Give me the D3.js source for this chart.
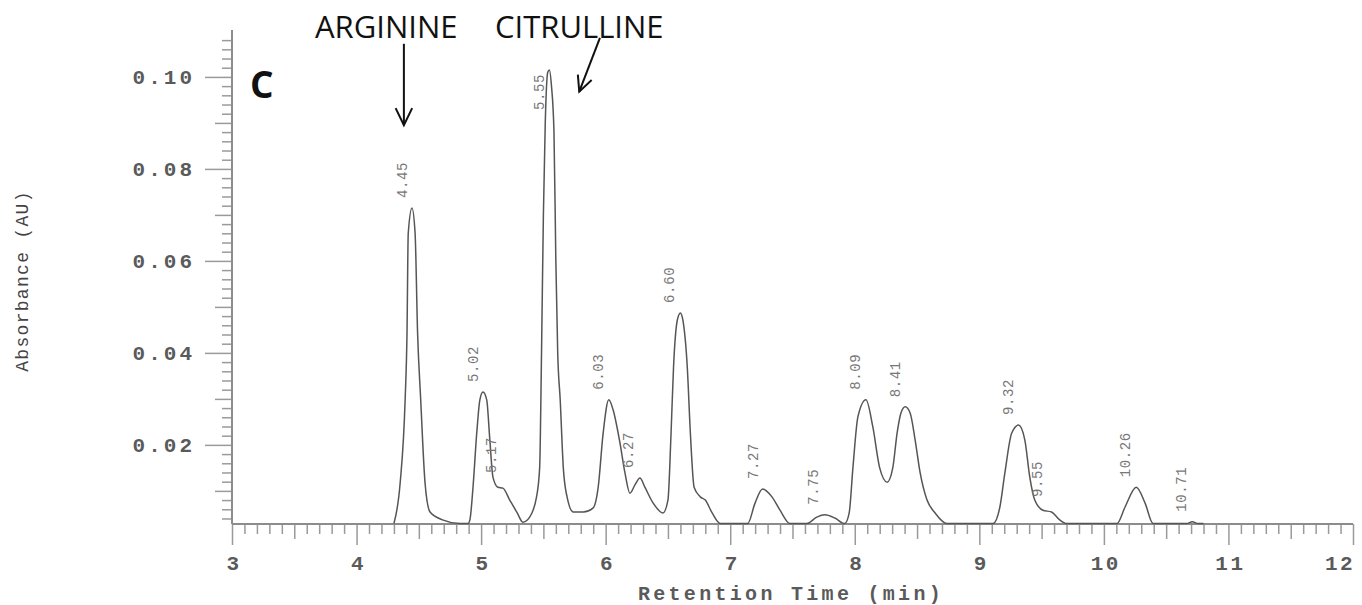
<!DOCTYPE html>
<html><head><meta charset="utf-8">
<script src="https://cdn.jsdelivr.net/npm/d3@7"></script>
<style>body{margin:0;background:#fff;} svg{display:block}</style>
</head><body><svg id="c" width="1362" height="605"></svg>
<script>
// ---- data ----
const traceTime = [4.30,4.35,4.39,4.405,4.415,4.445,4.47,4.49,4.515,4.55,4.59,4.69,4.83,4.895,4.91,4.935,4.965,4.99,5.015,5.045,5.07,5.095,5.135,5.175,5.23,5.29,5.335,5.39,5.445,5.47,5.485,5.50,5.515,5.535,5.548,5.565,5.585,5.60,5.615,5.635,5.66,5.69,5.74,5.82,5.90,5.94,5.98,6.025,6.06,6.115,6.155,6.195,6.235,6.275,6.315,6.38,6.46,6.50,6.525,6.545,6.575,6.60,6.62,6.655,6.68,6.71,6.76,6.80,6.855,6.92,7.14,7.20,7.26,7.335,7.40,7.48,7.615,7.695,7.76,7.84,7.92,7.955,7.985,8.025,8.09,8.145,8.20,8.26,8.305,8.34,8.37,8.405,8.445,8.485,8.525,8.58,8.645,8.74,9.11,9.165,9.205,9.26,9.315,9.365,9.405,9.445,9.51,9.58,9.645,9.70,10.105,10.17,10.26,10.33,10.395,10.665,10.71,10.755,10.80];
const traceAbs = [0.0029,0.0117,0.0298,0.0443,0.0660,0.0715,0.0660,0.0443,0.0298,0.0117,0.0054,0.0037,0.0029,0.0029,0.0037,0.0108,0.0226,0.0298,0.0315,0.0298,0.0211,0.0130,0.0108,0.0106,0.0080,0.0052,0.0032,0.0043,0.0087,0.0150,0.0400,0.0700,0.0900,0.1010,0.1015,0.0980,0.0880,0.0600,0.0400,0.0298,0.0150,0.0087,0.0054,0.0054,0.0063,0.0108,0.0226,0.0298,0.0276,0.0204,0.0139,0.0095,0.0113,0.0128,0.0108,0.0074,0.0052,0.0080,0.0226,0.0370,0.0471,0.0487,0.0471,0.0370,0.0226,0.0108,0.0087,0.0080,0.0052,0.0029,0.0029,0.0074,0.0104,0.0087,0.0058,0.0029,0.0029,0.0043,0.0048,0.0041,0.0029,0.0052,0.0150,0.0261,0.0298,0.0239,0.0150,0.0119,0.0150,0.0226,0.0269,0.0283,0.0269,0.0210,0.0139,0.0080,0.0052,0.0029,0.0029,0.0065,0.0139,0.0226,0.0243,0.0211,0.0130,0.0080,0.0058,0.0054,0.0037,0.0029,0.0029,0.0065,0.0108,0.0074,0.0029,0.0029,0.0033,0.0029,0.0029];

const peakTimes   = [4.45,5.02,5.17,5.55,6.03,6.27,6.60,7.27,7.75,8.09,8.41,9.32,9.55,10.26,10.71];
const peakLabels  = ["4.45","5.02","5.17","5.55","6.03","6.27","6.60","7.27","7.75","8.09","8.41","9.32","9.55","10.26","10.71"];
const peakHeights = [0.0715,0.0315,0.0117,0.1015,0.0298,0.0128,0.0487,0.0104,0.0048,0.0298,0.0282,0.0243,0.0065,0.0108,0.0033];

const xTickValues = [3,4,5,6,7,8,9,10,11,12];
const yTickValues = [0.02,0.04,0.06,0.08,0.10];
const xTitle = "Retention Time (min)";
const yTitle = "Absorbance (AU)";
const panelLetter = "C";
const compoundNames = ["ARGININE","CITRULLINE"];
// arrow anchors in data units: [time, absorbance]
const argArrow = {from:[4.38,0.1072], to:[4.38,0.0895]};
const citArrow = {from:[5.954,0.1085], to:[5.788,0.0968]};

// ---- chart ----
const svg = d3.select("#c");
const x = d3.scaleLinear().domain([3,12]).range([232,1353]);
const y = d3.scaleLinear().domain([0.0028,0.1102]).range([524,30]);
const tickCol = "#9a9a9a";
const mono = "'Liberation Mono', 'DejaVu Sans Mono', monospace";

// y-axis ticks
const yMinor = d3.range(2,56).map(i=>i*2).filter(v=>v%10!==0).map(v=>v/1000);
const yMed = [10,30,50,70,90].map(v=>v/1000);
function styleAxis(g){ g.selectAll("line").attr("stroke",tickCol).attr("stroke-width",1.5); g.select(".domain").remove(); }
svg.append("g").attr("transform","translate(232,0)")
  .call(d3.axisLeft(y).tickValues(yMinor).tickSize(10).tickFormat("")).call(styleAxis);
svg.append("g").attr("transform","translate(232,0)")
  .call(d3.axisLeft(y).tickValues(yMed).tickSize(17).tickFormat("")).call(styleAxis);
svg.append("g").attr("transform","translate(232,0)")
  .call(d3.axisLeft(y).tickValues(yTickValues).tickSize(27).tickFormat("")).call(styleAxis);

// x-axis ticks
const xMinor = d3.range(30,121).filter(v=>v%5!==0).map(v=>v/10);
const xMed = d3.range(3,12).map(v=>v+0.5);
const x0 = y(0.0028);
svg.append("g").attr("transform",`translate(0,${x0})`)
  .call(d3.axisBottom(x).tickValues(xMinor).tickSize(10).tickFormat("")).call(styleAxis);
svg.append("g").attr("transform",`translate(0,${x0})`)
  .call(d3.axisBottom(x).tickValues(xMed).tickSize(15).tickFormat("")).call(styleAxis);
svg.append("g").attr("transform",`translate(0,${x0})`)
  .call(d3.axisBottom(x).tickValues(xTickValues).tickSize(21).tickFormat("")).call(styleAxis);

// axis lines
svg.append("line").attr("x1",x(3)).attr("x2",x(3)).attr("y1",y(0.1102)).attr("y2",x0)
  .attr("stroke","#8c8c8c").attr("stroke-width",2);
svg.append("line").attr("x1",x(3)).attr("x2",x(12)).attr("y1",x0).attr("y2",x0)
  .attr("stroke","#8c8c8c").attr("stroke-width",2.2);

// tick labels
svg.append("g").selectAll("text").data(yTickValues).join("text")
  .attr("x",195).attr("y",d=>y(d)+7).attr("text-anchor","end")
  .style("font-family",mono).style("font-size","21px").style("font-weight","bold")
  .style("letter-spacing","3px").attr("fill","#5a5a5a").text(d=>d3.format(".2f")(d));
svg.append("g").selectAll("text").data(xTickValues).join("text")
  .attr("x",d=>Math.min(x(d)+2, 1340)).attr("y",570).attr("text-anchor","middle")
  .style("font-family",mono).style("font-size","21px").style("font-weight","bold")
  .style("letter-spacing","2.5px").attr("fill","#5a5a5a").text(d=>d);

// titles
svg.append("text").attr("x",791).attr("y",600).attr("text-anchor","middle")
  .style("font-family",mono).style("font-size","20px").style("font-weight","bold")
  .style("letter-spacing","3.3px").attr("fill","#5a5a5a").text(xTitle);
svg.append("text").attr("transform","translate(28,281) rotate(-90)").attr("text-anchor","middle")
  .style("font-family",mono).style("font-size","18px")
  .style("letter-spacing","1.3px").attr("fill","#444").text(yTitle);

// trace
const pts = traceTime.map((t,i)=>[t,traceAbs[i]]);
svg.append("path").datum(pts)
  .attr("d",d3.line().x(d=>x(d[0])).y(d=>y(d[1])).curve(d3.curveMonotoneX))
  .attr("fill","none").attr("stroke","#555").attr("stroke-width",1.5);

// peak labels
svg.append("g").selectAll("text").data(peakTimes).join("text")
  .attr("transform",(d,i)=>`translate(${x(d)-6},${Math.max(y(peakHeights[i])-10,110)}) rotate(-90)`)
  .attr("text-anchor","start")
  .style("font-family",mono).style("font-size","14px").style("letter-spacing","0.6px")
  .attr("fill","#777").text((d,i)=>peakLabels[i]);

// panel letter and compound annotations
svg.append("text").attr("x",250).attr("y",98)
  .style("font-family","'Open Sans', sans-serif").style("font-size","37px").style("font-weight","bold")
  .attr("fill","#111").text(panelLetter);
svg.append("text").attr("x",315).attr("y",38)
  .style("font-family","'Open Sans', sans-serif").style("font-size","31px")
  .attr("fill","#111").text(compoundNames[0]);
svg.append("text").attr("x",495).attr("y",38)
  .style("font-family","'Open Sans', sans-serif").style("font-size","31px")
  .attr("fill","#111").text(compoundNames[1]);

function arrow(a, headLen){
  const x1=x(a.from[0]), y1=y(a.from[1]), x2=x(a.to[0]), y2=y(a.to[1]);
  const ang = Math.atan2(y2-y1,x2-x1);
  const g = svg.append("g").attr("stroke","#111").attr("stroke-width",2).attr("fill","none");
  g.append("line").attr("x1",x1).attr("y1",y1).attr("x2",x2).attr("y2",y2);
  const w = 0.45;
  g.append("path").attr("d",
    `M${x2-headLen*Math.cos(ang-w)},${y2-headLen*Math.sin(ang-w)} L${x2},${y2} L${x2-headLen*Math.cos(ang+w)},${y2-headLen*Math.sin(ang+w)}`);
}
arrow(argArrow, 19);
arrow(citArrow, 17);
</script>
</body></html>
